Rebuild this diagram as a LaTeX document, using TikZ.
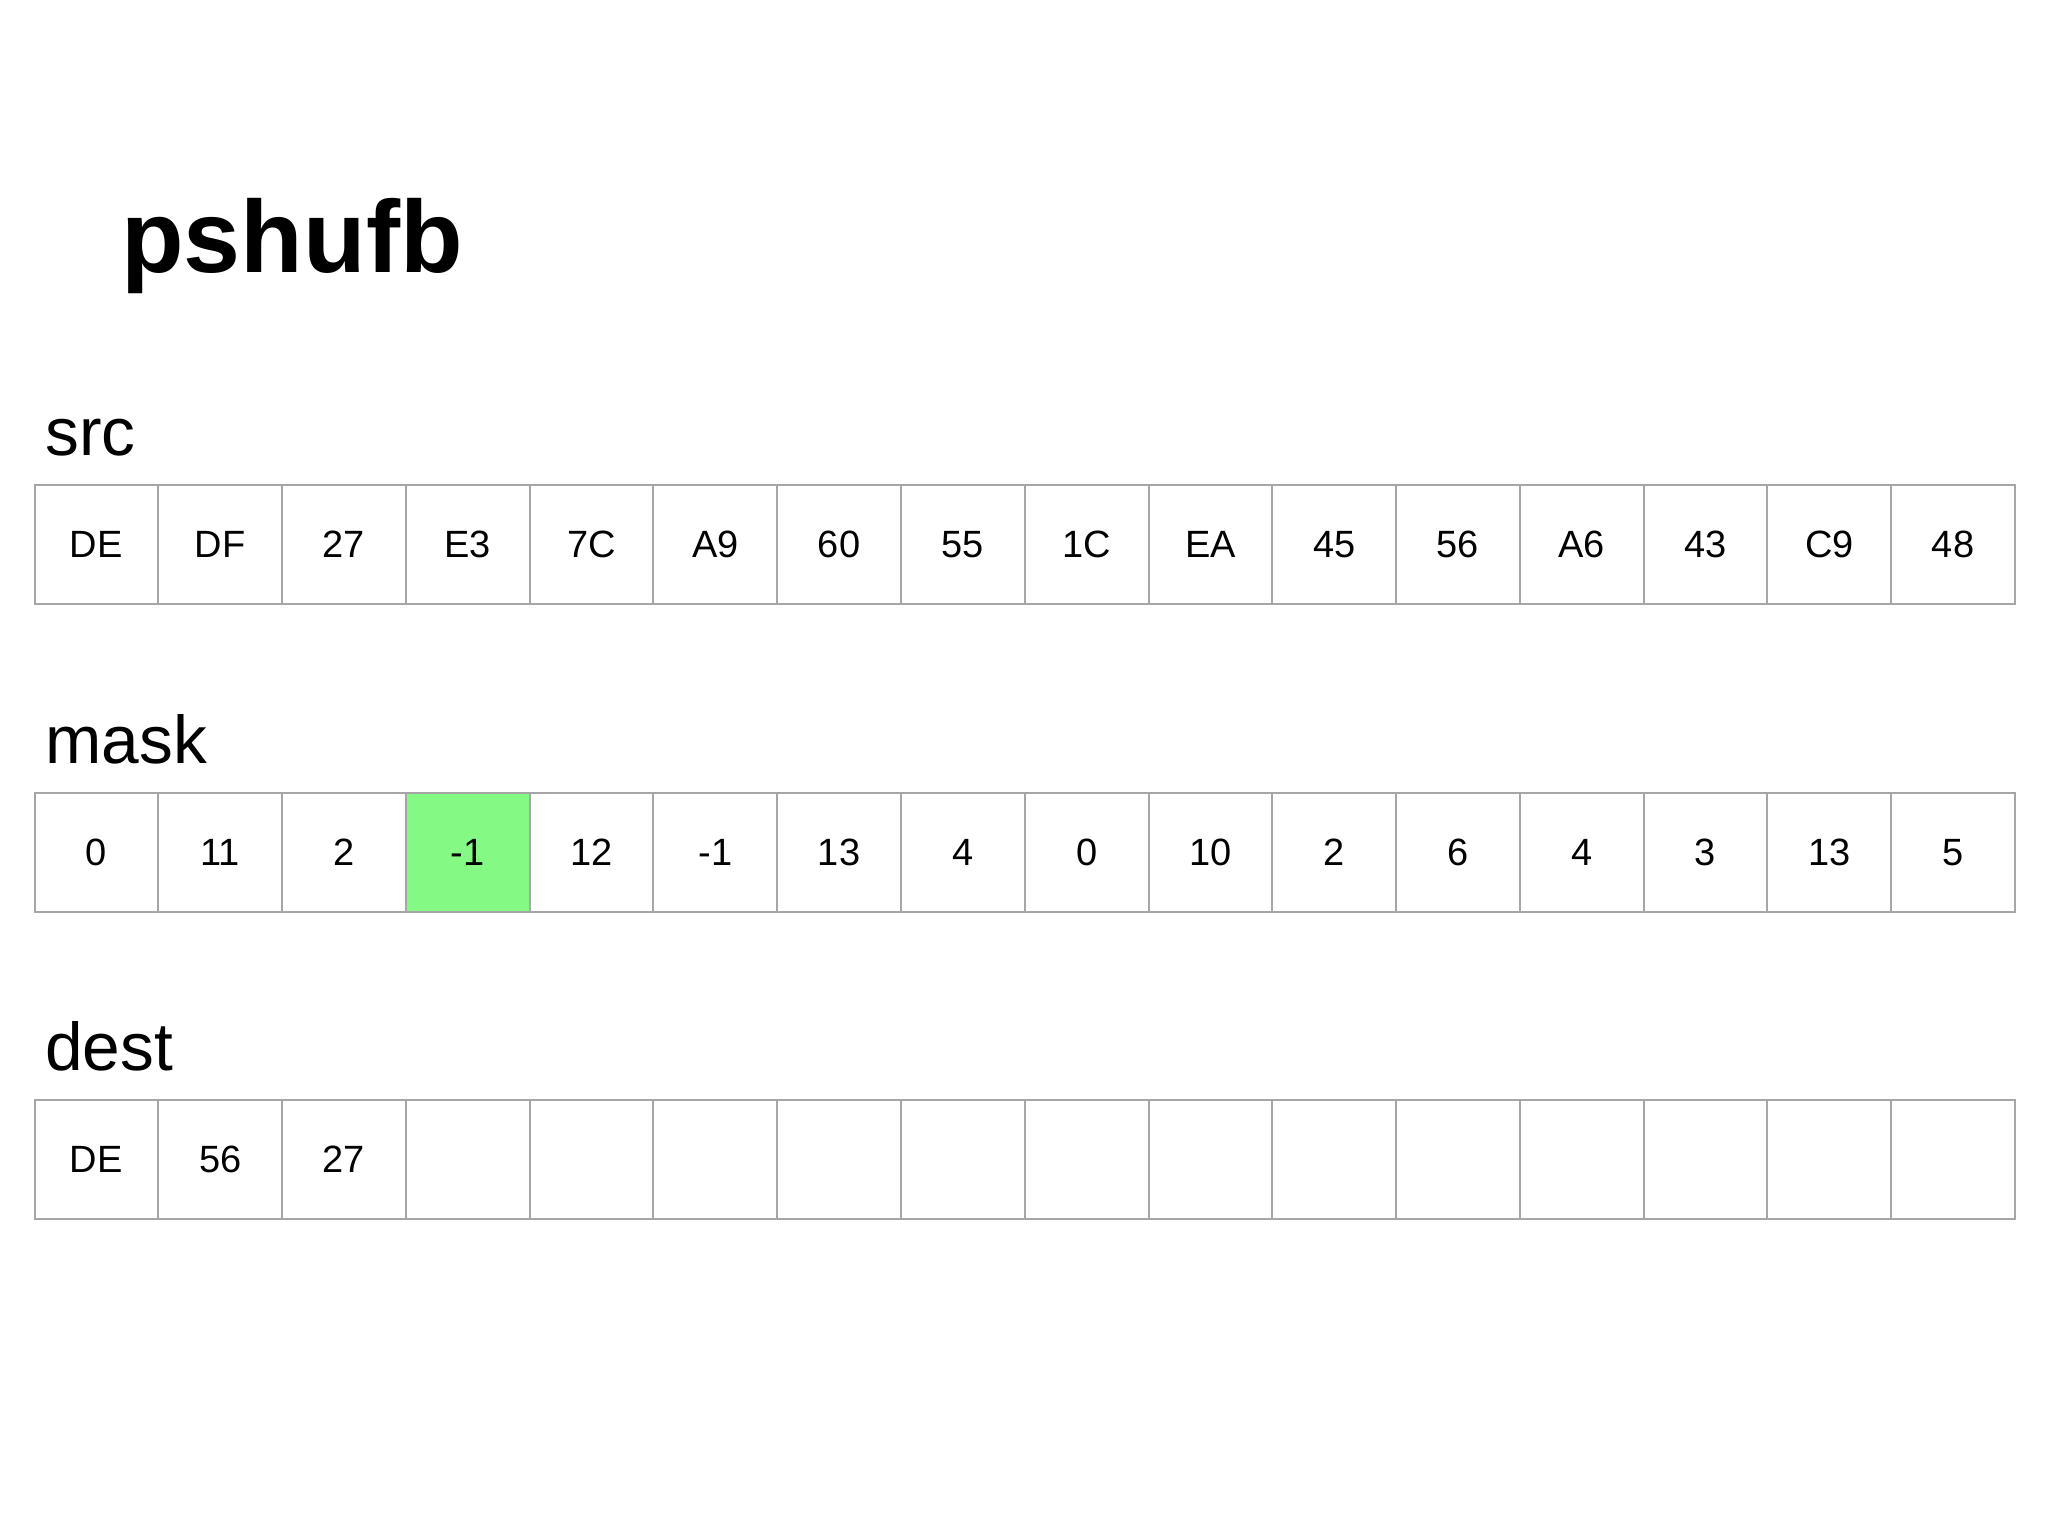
\documentclass[tikz,border=0pt]{standalone}
\usepackage{fontspec}
\setmainfont{Liberation Sans}
\definecolor{cellgray}{HTML}{A6A6A6}
\definecolor{hlgreen}{HTML}{84F984}
\begin{document}
\begin{tikzpicture}[x=0.5pt,y=-0.5pt,
  cellbox/.style={draw=cellgray, line width=1pt, rectangle, inner sep=0pt,
    minimum width=61.89pt, minimum height=59.5pt, anchor=north west,
    font=\fontsize{19}{22}\selectfont},
  rowlabel/.style={anchor=base west, inner sep=0pt, font=\fontsize{33.8}{38}\selectfont},
  titlestyle/.style={anchor=base west, inner sep=0pt, font=\fontsize{51.2}{60}\selectfont\bfseries}
  ]
\path[use as bounding box, fill=white] (0,0) rectangle (2048,1536);
\node[titlestyle] (title) at (121,272) {pshufb};
\node[rowlabel] (srclbl) at (45,455) {src};
\node[rowlabel] (masklbl) at (45,763) {mask};
\node[rowlabel] (destlbl) at (45,1070) {dest};
\foreach \v [count=\i from 0] in {DE,DF,27,E3,7C,A9,60,55,1C,EA,45,56,A6,43,C9,48}
  \node[cellbox] (s\i) at ({33.5+\i*123.78},484) {\v};
\foreach \v/\f [count=\i from 0] in {0/white,11/white,2/white,-1/hlgreen,12/white,-1/white,13/white,4/white,0/white,10/white,2/white,6/white,4/white,3/white,13/white,5/white}
  \node[cellbox, fill=\f] (m\i) at ({33.5+\i*123.78},792) {\v};
\foreach \v [count=\i from 0] in {DE,56,27,{},{},{},{},{},{},{},{},{},{},{},{},{}}
  \node[cellbox] (d\i) at ({33.5+\i*123.78},1098.5) {\v};
\end{tikzpicture}
\end{document}
